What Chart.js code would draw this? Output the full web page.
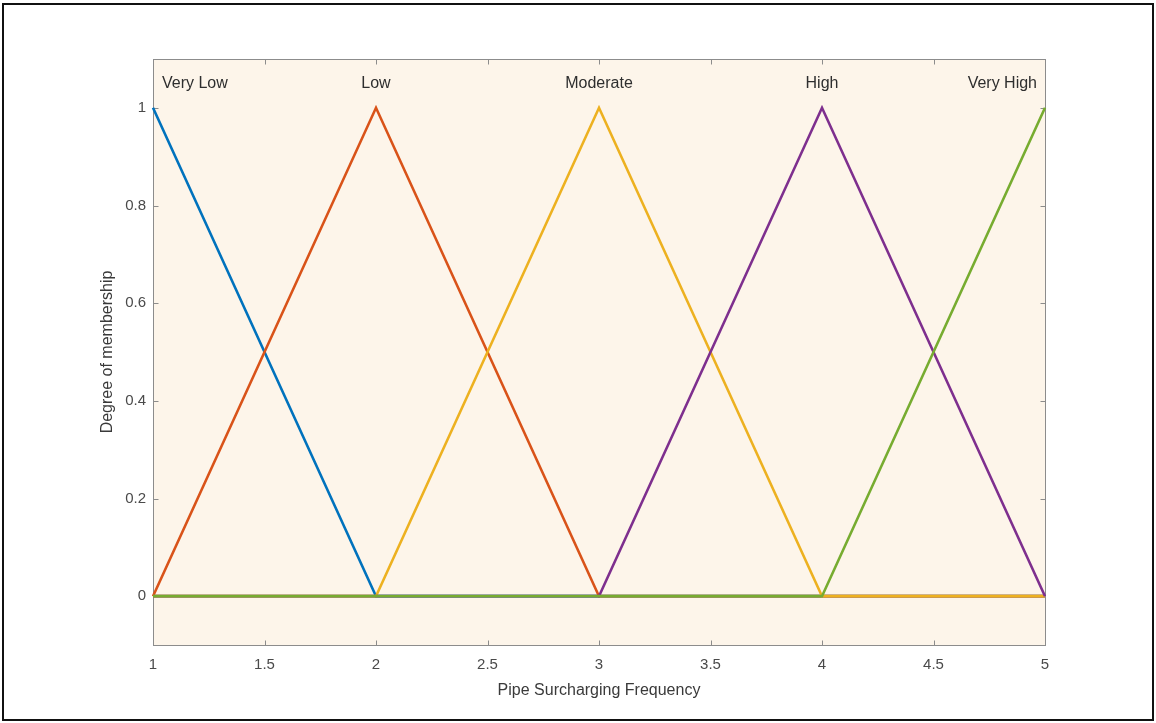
<!DOCTYPE html>
<html>
<head>
<meta charset="utf-8">
<script src="https://cdn.jsdelivr.net/npm/chart.js@4/dist/chart.umd.min.js"></script>
<style>
  html, body { margin: 0; padding: 0; background: #ffffff; }
  #wrap { width: 1156px; height: 723px; position: relative; }
</style>
</head>
<body>
<div id="wrap"><canvas id="c" width="1156" height="723"></canvas></div>
<script>
// Membership function breakpoints (x) and degrees of membership per fuzzy set
const xValues  = [1, 2, 3, 4, 5];
const veryLow  = [1, 0, 0, 0, 0];
const low      = [0, 1, 0, 0, 0];
const moderate = [0, 0, 1, 0, 0];
const high     = [0, 0, 0, 1, 0];
const veryHigh = [0, 0, 0, 0, 1];

// Set names and the x position of each set's peak
const setNames = ['Very Low', 'Low', 'Moderate', 'High', 'Very High'];
const setPeaks = [1, 2, 3, 4, 5];
const nameLevel = 1.05;

// Axis ticks and limits
const xTicks = [1, 1.5, 2, 2.5, 3, 3.5, 4, 4.5, 5];
const yTicks = [0, 0.2, 0.4, 0.6, 0.8, 1];
const xLimits = [1, 5];
const yLimits = [-0.1, 1.1];

const series = [veryLow, low, moderate, high, veryHigh];
const colors = ['#0072BD', '#D95319', '#EDB120', '#7E2F8E', '#77AC30'];

Chart.defaults.font.family = "'Liberation Sans', Arial, Helvetica, sans-serif";

const axesBox = {
  id: 'axesBox',
  beforeDraw(chart) {
    const { ctx, chartArea: a } = chart;
    ctx.save();
    ctx.fillStyle = '#ffffff';
    ctx.fillRect(0, 0, chart.width, chart.height);
    ctx.fillStyle = '#FDF5EA';
    ctx.fillRect(a.left, a.top, a.right - a.left, a.bottom - a.top);
    // outer frame
    ctx.strokeStyle = '#111111';
    ctx.lineWidth = 2;
    ctx.strokeRect(3, 4, 1150, 716);
    ctx.restore();
  },
  beforeDatasetsDraw(chart) {
    const { ctx, chartArea: a, scales } = chart;
    const L = Math.round(a.left) + 0.5, R = Math.round(a.right) + 0.5;
    const T = Math.round(a.top) + 0.5, B = Math.round(a.bottom) + 0.5;
    const tick = 5;
    ctx.save();
    ctx.strokeStyle = '#8c8c8c';
    ctx.lineWidth = 1;
    ctx.beginPath();
    xTicks.forEach(v => {
      const px = Math.round(scales.x.getPixelForValue(v)) + 0.5;
      ctx.moveTo(px, B); ctx.lineTo(px, B - tick);
      ctx.moveTo(px, T); ctx.lineTo(px, T + tick);
    });
    yTicks.forEach(v => {
      const py = Math.round(scales.y.getPixelForValue(v)) + 0.5;
      ctx.moveTo(L, py); ctx.lineTo(L + tick, py);
      ctx.moveTo(R, py); ctx.lineTo(R - tick, py);
    });
    ctx.stroke();
    ctx.strokeRect(L, T, R - L, B - T);
    ctx.restore();
  },
  afterDatasetsDraw(chart) {
    const { ctx, chartArea: a, scales } = chart;
    ctx.save();
    ctx.font = "16px 'Liberation Sans', Arial, sans-serif";
    ctx.fillStyle = '#2e2e2e';
    ctx.textAlign = 'center';
    ctx.textBaseline = 'middle';
    const py = scales.y.getPixelForValue(nameLevel);
    setNames.forEach((name, i) => {
      const w = ctx.measureText(name).width;
      let px = scales.x.getPixelForValue(setPeaks[i]);
      px = Math.max(a.left + 9 + w / 2, Math.min(a.right - 8 - w / 2, px));
      ctx.fillText(name, px, py);
    });
    ctx.restore();
  }
};

new Chart(document.getElementById('c'), {
  type: 'line',
  data: {
    // later sets are painted over earlier ones
    datasets: series.map((vals, i) => ({
      label: setNames[i],
      data: xValues.map((x, j) => ({ x: x, y: vals[j] })),
      order: series.length - i,
      borderColor: colors[i],
      backgroundColor: colors[i],
      borderWidth: 2.6,
      pointRadius: 0,
      tension: 0,
      fill: false,
      clip: false
    }))
  },
  options: {
    responsive: false,
    animation: false,
    devicePixelRatio: 1,
    layout: { padding: { left: 0, top: 59, right: 111, bottom: 0 } },
    plugins: { legend: { display: false }, tooltip: { enabled: false } },
    scales: {
      x: {
        type: 'linear',
        min: xLimits[0], max: xLimits[1],
        afterBuildTicks: s => { s.ticks = xTicks.map(v => ({ value: v })); },
        afterFit: s => { s.height = 78; },
        grid: { display: false, drawTicks: false, tickLength: 0 },
        border: { display: false },
        ticks: {
          color: '#4a4a4a', padding: 11, maxRotation: 0, autoSkip: false,
          font: { size: 15 },
          callback: v => String(v)
        },
        title: {
          display: true, text: 'Pipe Surcharging Frequency',
          color: '#3a3a3a', font: { size: 16 },
          padding: { top: 0, bottom: 23 }
        }
      },
      y: {
        type: 'linear',
        min: yLimits[0], max: yLimits[1],
        afterBuildTicks: s => { s.ticks = yTicks.map(v => ({ value: v })); },
        afterFit: s => { s.width = 153; },
        grid: { display: false, drawTicks: false, tickLength: 0 },
        border: { display: false },
        ticks: {
          color: '#4a4a4a', padding: 7, autoSkip: false,
          font: { size: 15 },
          callback: v => String(v)
        },
        title: {
          display: true, text: 'Degree of membership',
          color: '#3a3a3a', font: { size: 16 },
          padding: { top: 98, bottom: 0 }
        }
      }
    }
  },
  plugins: [axesBox]
});
</script>
</body>
</html>
